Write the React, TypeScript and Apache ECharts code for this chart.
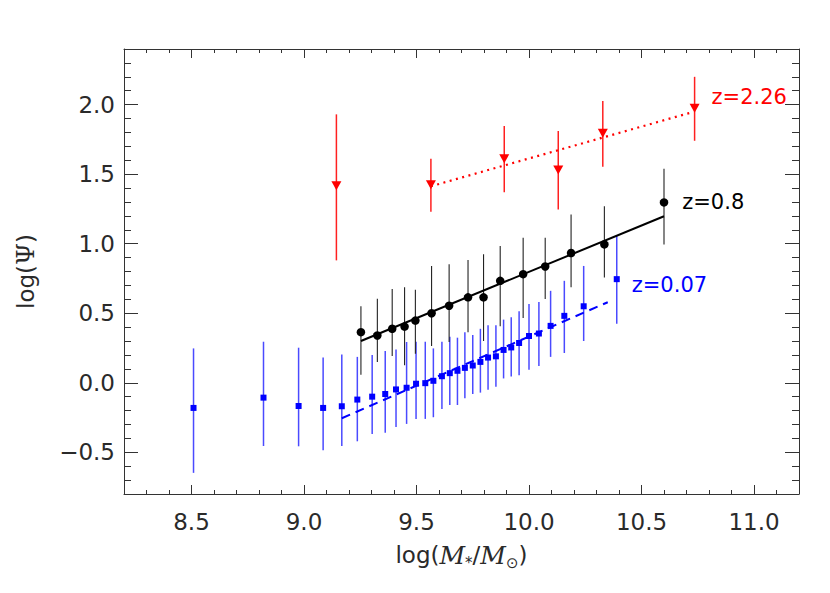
import React, { useEffect, useRef } from "react";
import * as echarts from "echarts";

// z = 0.07 sample (blue squares)
const blueX = [8.509, 8.82, 8.976, 9.085, 9.168, 9.237, 9.303, 9.361, 9.409, 9.456, 9.498, 9.539, 9.575, 9.613, 9.648, 9.682, 9.715, 9.75, 9.784, 9.818, 9.853, 9.887, 9.921, 9.956, 10.0, 10.044, 10.096, 10.157, 10.243, 10.39];
const blueY = [-0.181, -0.107, -0.167, -0.181, -0.169, -0.121, -0.1, -0.081, -0.048, -0.036, -0.007, -0.003, 0.014, 0.047, 0.069, 0.086, 0.107, 0.124, 0.15, 0.181, 0.19, 0.236, 0.254, 0.286, 0.336, 0.354, 0.409, 0.481, 0.55, 0.745];
const blueHi = [0.247, 0.295, 0.252, 0.181, 0.204, 0.186, 0.2, 0.229, 0.24, 0.293, 0.295, 0.295, 0.247, 0.295, 0.331, 0.324, 0.364, 0.343, 0.388, 0.414, 0.414, 0.454, 0.471, 0.514, 0.566, 0.581, 0.661, 0.733, 0.84, 1.057];
const blueLo = [-0.648, -0.455, -0.457, -0.486, -0.455, -0.421, -0.369, -0.36, -0.319, -0.296, -0.26, -0.26, -0.248, -0.189, -0.16, -0.16, -0.112, -0.081, -0.071, -0.05, -0.029, 0.031, 0.045, 0.054, 0.093, 0.121, 0.186, 0.214, 0.3, 0.424];
const blueFitX = [9.168, 10.35];
const blueFitY = [-0.255, 0.579];

// z = 0.8 sample (black circles)
const blackX = [9.253, 9.326, 9.392, 9.447, 9.495, 9.567, 9.645, 9.729, 9.798, 9.872, 9.974, 10.072, 10.187, 10.335, 10.6];
const blackY = [0.364, 0.34, 0.388, 0.404, 0.447, 0.5, 0.554, 0.614, 0.614, 0.733, 0.781, 0.836, 0.933, 0.995, 1.297];
const blackHi = [0.55, 0.604, 0.674, 0.686, 0.669, 0.84, 0.852, 0.883, 0.924, 0.983, 1.043, 1.043, 1.209, 1.269, 1.538];
const blackLo = [0.057, 0.15, 0.193, 0.126, 0.209, 0.264, 0.293, 0.364, 0.3, 0.407, 0.466, 0.602, 0.686, 0.757, 0.995];
const blackFitX = [9.253, 10.6];
const blackFitY = [0.3, 1.197];

// z = 2.26 sample (red triangles)
const redX = [9.144, 9.564, 9.89, 10.13, 10.328, 10.736];
const redY = [1.416, 1.424, 1.61, 1.53, 1.795, 1.974];
const redHi = [1.93, 1.61, 1.847, 1.81, 2.026, 2.2];
const redLo = [0.88, 1.23, 1.37, 1.245, 1.554, 1.74];
const redFitX = [9.564, 10.729];
const redFitY = [1.413, 1.947];

const seriesLabels = ["z=0.07", "z=0.8", "z=2.26"];

// axis ticks
const xMin = 8.2, xMax = 11.2, yMin = -0.8, yMax = 2.4;
const xMajor = [8.5, 9.0, 9.5, 10.0, 10.5, 11.0];
const xMinor = [8.3, 8.4, 8.6, 8.7, 8.8, 8.9, 9.1, 9.2, 9.3, 9.4, 9.6, 9.7, 9.8, 9.9, 10.1, 10.2, 10.3, 10.4, 10.6, 10.7, 10.8, 10.9, 11.1];
const yMajor = [-0.5, 0.0, 0.5, 1.0, 1.5, 2.0];
const yMinor = [-0.7, -0.6, -0.4, -0.3, -0.2, -0.1, 0.1, 0.2, 0.3, 0.4, 0.6, 0.7, 0.8, 0.9, 1.1, 1.2, 1.3, 1.4, 1.6, 1.7, 1.8, 1.9, 2.1, 2.2, 2.3];

const FONT = "DejaVu Sans";
const AX = "#333";
const TXT = "#2a2a2a";

function errorBars(xs: number[], lo: number[], hi: number[], color: string, width: number) {
  return {
    type: "custom",
    data: xs.map((x, i) => [x, lo[i], hi[i]]),
    encode: { x: 0, y: [1, 2] },
    silent: true,
    renderItem: (_p: any, api: any) => {
      const a = api.coord([api.value(0), api.value(1)]);
      const b = api.coord([api.value(0), api.value(2)]);
      return {
        type: "line",
        shape: { x1: a[0], y1: a[1], x2: b[0], y2: b[1] },
        style: { stroke: color, lineWidth: width },
      };
    },
  };
}

function markers(xs: number[], ys: number[], extra: any, label: any) {
  return {
    type: "scatter",
    ...extra,
    data: xs.map((x, i) =>
      i === xs.length - 1 ? { value: [x, ys[i]], label: { show: true, ...label } } : [x, ys[i]]
    ),
  };
}

function fitLine(xs: number[], ys: number[], color: string, type: any, width: number) {
  return {
    type: "line",
    data: xs.map((x, i) => [x, ys[i]]),
    showSymbol: false,
    symbol: "none",
    lineStyle: { color, type, width },
    silent: true,
  };
}

function xAxisDef(pos: string, ticks: number[], len: number, main: boolean, labels: boolean) {
  return {
    type: "value",
    position: pos,
    min: xMin,
    max: xMax,
    splitLine: { show: false },
    axisLine: { show: main, onZero: false, lineStyle: { color: AX, width: 1 } },
    axisTick: { show: true, inside: true, length: len, customValues: ticks, lineStyle: { color: AX, width: 1 } },
    axisLabel: labels
      ? { show: true, customValues: ticks, formatter: (v: number) => v.toFixed(1), fontSize: 23, color: TXT, fontFamily: FONT, margin: 16 }
      : { show: false },
  };
}

function yAxisDef(pos: string, ticks: number[], len: number, main: boolean, labels: boolean) {
  return {
    type: "value",
    position: pos,
    min: yMin,
    max: yMax,
    splitLine: { show: false },
    axisLine: { show: main, onZero: false, lineStyle: { color: AX, width: 1 } },
    axisTick: { show: true, inside: true, length: len, customValues: ticks, lineStyle: { color: AX, width: 1 } },
    axisLabel: labels
      ? {
          show: true,
          customValues: ticks,
          formatter: (v: number) => (v < 0 ? "\u2212" : "") + Math.abs(v).toFixed(1),
          fontSize: 23,
          color: TXT,
          fontFamily: FONT,
          margin: 9,
        }
      : { show: false },
  };
}

export default function App() {
  const ref = useRef<HTMLDivElement>(null);
  useEffect(() => {
    if (!ref.current) return;
    const chart = echarts.init(ref.current, undefined, { renderer: "svg" });
    const xMainAxis: any = xAxisDef("bottom", xMajor, 9, true, true);
    xMainAxis.name = "{n|log(}{i|M}{s|*}{n|/}{i|M}{s|\u2299}{n|)}";
    xMainAxis.nameLocation = "middle";
    xMainAxis.nameGap = 46;
    xMainAxis.nameTextStyle = {
      rich: {
        n: { fontSize: 23, fontFamily: FONT, color: TXT, lineHeight: 30, verticalAlign: "middle" },
        i: { fontSize: 25, fontFamily: "DejaVu Serif", fontStyle: "italic", color: TXT, lineHeight: 30, verticalAlign: "middle" },
        s: { fontSize: 15, fontFamily: FONT, color: TXT, lineHeight: 14, verticalAlign: "bottom" },
      },
    };
    const yMainAxis: any = yAxisDef("left", yMajor, 14, true, true);
    yMainAxis.name = "{n|log(}{g|\u03A8}{n|)}";
    yMainAxis.nameLocation = "middle";
    yMainAxis.nameGap = 86;
    yMainAxis.nameTextStyle = {
      rich: {
        n: { fontSize: 23, fontFamily: FONT, color: TXT },
        g: { fontSize: 25, fontFamily: "DejaVu Serif", color: TXT },
      },
    };
    const option: any = {
      animation: false,
      backgroundColor: "#fff",
      grid: { left: 124, right: 31, top: 49, bottom: 99, containLabel: false },
      xAxis: [
        xMainAxis,
        xAxisDef("bottom", xMinor, 4, false, false),
        xAxisDef("top", xMajor, 9, true, false),
        xAxisDef("top", xMinor, 4, false, false),
      ],
      yAxis: [
        yMainAxis,
        yAxisDef("left", yMinor, 7, false, false),
        yAxisDef("right", yMajor, 14, true, false),
        yAxisDef("right", yMinor, 7, false, false),
      ],
      series: [
        errorBars(blueX, blueLo, blueHi, "#4a4aff", 1.5),
        errorBars(blackX, blackLo, blackHi, "#222", 1.1),
        errorBars(redX, redLo, redHi, "#ff2020", 1.5),
        fitLine(blueFitX, blueFitY, "#0000ff", [9, 6], 2),
        fitLine(blackFitX, blackFitY, "#000", "solid", 2),
        fitLine(redFitX, redFitY, "#ff0000", [2, 4.5], 2.2),
        markers(
          blueX,
          blueY,
          { symbol: "rect", symbolSize: 6, itemStyle: { color: "#0000ff", opacity: 1 } },
          { formatter: seriesLabels[0], position: "right", offset: [7, 6], color: "#0000ff", fontSize: 21, fontFamily: FONT }
        ),
        markers(
          blackX,
          blackY,
          { symbol: "circle", symbolSize: 8.5, itemStyle: { color: "#000", opacity: 1 } },
          { formatter: seriesLabels[1], position: "right", offset: [9, 0], color: "#000", fontSize: 21, fontFamily: FONT }
        ),
        markers(
          redX,
          redY,
          { symbol: "triangle", symbolRotate: 180, symbolSize: [10, 9], itemStyle: { color: "#ff0000", opacity: 1 } },
          { formatter: seriesLabels[2], position: "right", offset: [7, -11], color: "#ff0000", fontSize: 21, fontFamily: FONT }
        ),
      ],
    };
    chart.setOption(option);
    return () => chart.dispose();
  }, []);
  return <div ref={ref} style={{ position: "fixed", left: 0, top: 0, width: 830, height: 593 }} />;
}
